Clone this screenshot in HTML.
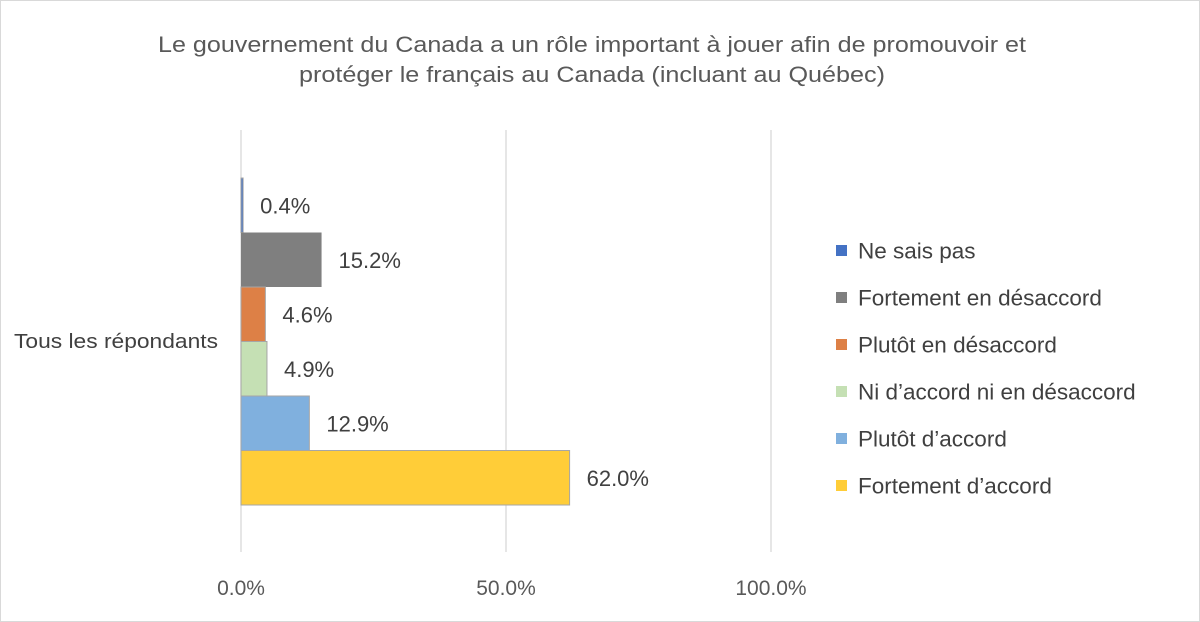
<!DOCTYPE html>
<html><head><meta charset="utf-8"><style>
body{margin:0;background:#fff}
svg{display:block;font-family:"Liberation Sans",sans-serif}
</style></head><body>
<svg id="c" width="1200" height="622">
<rect x="0.5" y="0.5" width="1199" height="621" fill="#fff" stroke="#d9d9d9"/>
<text x="592" y="52" text-anchor="middle" font-size="22" fill="#595959" textLength="868" lengthAdjust="spacingAndGlyphs">Le gouvernement du Canada a un rôle important à jouer afin de promouvoir et</text>
<text x="592" y="82" text-anchor="middle" font-size="22" fill="#595959" textLength="586" lengthAdjust="spacingAndGlyphs">protéger le français au Canada (incluant au Québec)</text>
<text x="14" y="348" font-size="20" fill="#404040" textLength="204" lengthAdjust="spacingAndGlyphs">Tous les répondants</text>
<g id="grid"></g><g id="bars"></g><g id="legend"></g>
</svg>
<script>
const categories=["Ne sais pas","Fortement en désaccord","Plutôt en désaccord","Ni d’accord ni en désaccord","Plutôt d’accord","Fortement d’accord"];
const values=[0.4,15.2,4.6,4.9,12.9,62.0];
const colors=["#4472c4","#7f7f7f","#dd8046","#c5e0b4","#80b0de","#ffcd38"];
const ticks=[0,50,100];
const NS="http://www.w3.org/2000/svg";
function x(v){return 241+v*5.3;}
function mk(t,a,p){const e=document.createElementNS(NS,t);for(const k in a)e.setAttribute(k,a[k]);p.appendChild(e);return e;}
const grid=document.getElementById('grid'),bars=document.getElementById('bars'),leg=document.getElementById('legend');
ticks.forEach(t=>{
 const l=mk('line',{x1:x(t),x2:x(t),y1:130,y2:552,stroke:'#d9d9d9','stroke-width':1.3},grid);
 
 
 const tx=mk('text',{x:x(t),y:595,'text-anchor':'middle','font-size':21,fill:'#595959'},grid);
 tx.textContent=t.toFixed(1)+'%';
 
 
});
const bh=54.5,top0=178;
values.forEach((v,i)=>{
 const y=top0+i*bh;
 const r=mk('rect',{x:x(0),y:y,width:Math.max(x(v)-x(0),1.5),height:bh,fill:colors[i],stroke:i==1?'none':'#a6a6a6','stroke-width':1},bars);
 
 
 const t=mk('text',{x:x(v)+17,y:y+bh/2+8,'font-size':22,fill:'#404040'},bars);
 t.textContent=v.toFixed(1)+'%';
 
 
});
categories.forEach((c,i)=>{
 const y=251+i*47;
 const r=mk('rect',{x:836,y:y-6,width:11,height:11,fill:colors[i]},leg);
 
 
 const t=mk('text',{x:858,y:y+7.5,'font-size':22.5,fill:'#404040'},leg);
 t.textContent=c;
 
 
});
</script>
</body></html>
